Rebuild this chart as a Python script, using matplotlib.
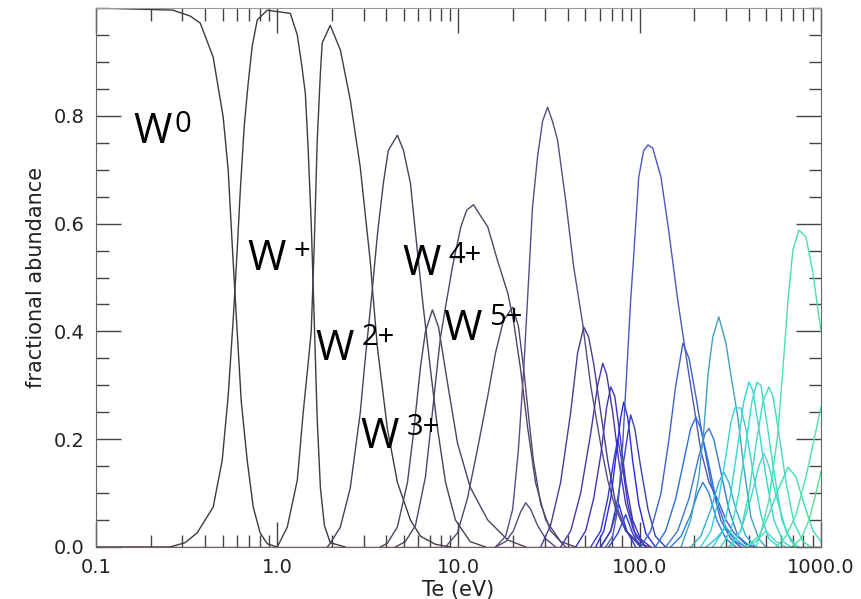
import numpy as np
import matplotlib
matplotlib.use("Agg")
import matplotlib.pyplot as plt
from matplotlib.ticker import FixedLocator, LogLocator, MultipleLocator, NullFormatter

# Fractional abundance of tungsten charge states vs electron temperature
# Te in eV, abundance between 0 and 1. One pair of lists per charge state.

te_00 = [0.1, 0.266, 0.331, 0.376, 0.443, 0.503, 0.536, 0.571, 0.601, 0.633, 0.683, 0.737, 0.805, 0.881, 1.0]
fa_00 = [1.0, 0.996, 0.985, 0.972, 0.909, 0.798, 0.70, 0.53, 0.40, 0.27, 0.16, 0.074, 0.026, 0.006, 0.0]

te_01 = [0.1, 0.256, 0.310, 0.361, 0.443, 0.497, 0.536, 0.571, 0.601, 0.625, 0.657, 0.691, 0.728, 0.776, 0.881,
         1.18, 1.29, 1.37, 1.43, 1.48, 1.54, 1.60, 1.66, 1.73, 1.82, 1.96, 2.37]
fa_01 = [0.0, 0.0, 0.008, 0.026, 0.074, 0.161, 0.28, 0.42, 0.55, 0.66, 0.78, 0.86, 0.93, 0.978, 0.996,
         0.99, 0.95, 0.89, 0.84, 0.74, 0.60, 0.42, 0.24, 0.11, 0.04, 0.008, 0.0]

te_02 = [1.0, 1.136, 1.29, 1.39, 1.48, 1.54, 1.60, 1.66, 1.73, 1.77, 1.96, 2.23, 2.53, 2.87, 3.26, 3.35, 3.57,
         4.05, 4.60, 5.43, 6.17, 7.46, 9.03]
fa_02 = [0.0, 0.037, 0.124, 0.249, 0.34, 0.40, 0.56, 0.75, 0.88, 0.935, 0.968, 0.922, 0.829, 0.705, 0.53, 0.48, 0.37,
         0.22, 0.12, 0.05, 0.02, 0.005, 0.0]

te_03 = [1.89, 1.96, 2.23, 2.53, 2.87, 3.06, 3.26, 3.35, 3.57, 3.85, 4.10, 4.60, 4.97, 5.43, 5.79, 6.33, 7.00,
         7.66, 8.48, 9.62, 11.6, 14.1]
fa_03 = [0.0, 0.007, 0.037, 0.11, 0.249, 0.35, 0.44, 0.48, 0.58, 0.675, 0.736, 0.764, 0.736, 0.675, 0.583, 0.458, 0.33,
         0.22, 0.12, 0.05, 0.01, 0.0]

te_04 = [3.71, 4.05, 4.60, 5.23, 5.64, 6.17, 6.57, 7.18, 7.76, 8.70, 9.87, 11.6, 14.5, 18.7, 23.5]
fa_04 = [0.0, 0.007, 0.037, 0.12, 0.21, 0.334, 0.40, 0.44, 0.408, 0.304, 0.193, 0.111, 0.05, 0.013, 0.0]

te_05 = [4.49, 5.09, 5.79, 6.57, 7.18, 7.66, 7.96, 8.48, 9.26, 10.3, 11.1, 12.1, 13.2, 14.5, 16.4, 18.7, 20.1,
         22.0, 24.1, 26.6, 30.3, 36.6, 44.3]
fa_05 = [0.0, 0.01, 0.04, 0.13, 0.25, 0.34, 0.39, 0.445, 0.52, 0.594, 0.625, 0.635, 0.615, 0.594, 0.532, 0.471, 0.42,
         0.33, 0.22, 0.12, 0.05, 0.01, 0.0]

te_06 = [8.48, 9.87, 11.2, 12.7, 14.5, 16.0, 17.7, 19.9, 21.4, 22.9, 24.4, 25.9, 28.4, 32.2, 39.0]
fa_06 = [0.0, 0.026, 0.09, 0.18, 0.28, 0.36, 0.42, 0.445, 0.41, 0.33, 0.24, 0.16, 0.08, 0.03, 0.0]

te_07 = [16.0, 18.2, 20.1, 22.0, 23.5, 25.0, 27.3, 30.3, 34.4]
fa_07 = [0.0, 0.01, 0.03, 0.065, 0.082, 0.07, 0.04, 0.015, 0.0]

te_08 = [16.0, 18.2, 19.9, 21.4, 22.9, 24.4, 25.6, 27.3, 29.1, 31.0, 33.0, 35.2, 39.0, 43.2, 48.4, 53.6, 60.9,
         66.6, 73.7, 83.7, 101, 115]
fa_08 = [0.0, 0.02, 0.07, 0.18, 0.33, 0.50, 0.63, 0.724, 0.79, 0.816, 0.79, 0.755, 0.644, 0.52, 0.415, 0.30, 0.19,
         0.124, 0.07, 0.03, 0.005, 0.0]

te_09 = [28.4, 32.2, 36.6, 41.6, 45.4, 49.1, 52.2, 55.7, 60.9, 66.6, 73.7, 83.7, 101]
fa_09 = [0.0, 0.04, 0.12, 0.25, 0.36, 0.408, 0.39, 0.34, 0.25, 0.16, 0.08, 0.03, 0.0]

te_10 = [36.6, 41.6, 47.2, 53.6, 58.6, 62.5, 65.7, 70.9, 76.6, 83.7, 92.6, 108]
fa_10 = [0.0, 0.03, 0.10, 0.21, 0.30, 0.341, 0.32, 0.25, 0.16, 0.08, 0.03, 0.0]

te_11 = [44.3, 50.3, 55.7, 60.9, 65.7, 69.2, 72.8, 77.6, 83.7, 91.4, 101, 115]
fa_11 = [0.0, 0.03, 0.09, 0.17, 0.26, 0.297, 0.28, 0.21, 0.12, 0.05, 0.015, 0.0]

te_12 = [53.6, 60.9, 66.6, 71.8, 75.6, 79.6, 85.9, 95.0, 108]
fa_12 = [0.0, 0.03, 0.09, 0.16, 0.20, 0.16, 0.08, 0.02, 0.0]

te_13 = [60.9, 69.2, 76.6, 84.7, 95.0]
fa_13 = [0.0, 0.03, 0.08, 0.03, 0.0]

te_14 = [57.1, 63.3, 69.2, 74.6, 78.5, 81.6, 85.9, 91.4, 98.7, 108, 122]
fa_14 = [0.0, 0.03, 0.09, 0.18, 0.24, 0.269, 0.24, 0.16, 0.08, 0.025, 0.0]

te_15 = [67.4, 75.6, 83.7, 91.4, 101]
fa_15 = [0.0, 0.025, 0.06, 0.025, 0.0]

te_16 = [60.9, 69.2, 75.6, 81.6, 85.9, 89.1, 93.8, 101, 111, 122, 139]
fa_16 = [0.0, 0.03, 0.09, 0.16, 0.21, 0.245, 0.22, 0.15, 0.07, 0.02, 0.0]

te_17 = [64.9, 70.9, 75.6, 80.5, 85.9, 89.1, 92.6, 98.7, 105, 111, 118, 131, 145, 162, 184, 217, 241, 270,
         299, 331, 385, 438]
fa_17 = [0.0, 0.02, 0.07, 0.19, 0.36, 0.458, 0.54, 0.686, 0.735, 0.746, 0.74, 0.686, 0.583, 0.458, 0.334, 0.18, 0.12, 0.087,
         0.05, 0.026, 0.005, 0.0]

te_18 = [101, 115, 131, 145, 158, 173, 187, 204, 223, 247, 280, 318, 361]
fa_18 = [0.0, 0.03, 0.10, 0.20, 0.30, 0.378, 0.35, 0.28, 0.20, 0.12, 0.05, 0.015, 0.0]

te_19 = [122, 139, 158, 175, 191, 204, 217, 238, 263, 299, 339, 385]
fa_19 = [0.0, 0.03, 0.09, 0.16, 0.22, 0.241, 0.22, 0.16, 0.09, 0.035, 0.01, 0.0]

te_20 = [148, 169, 191, 209, 223, 241, 266, 299, 339]
fa_20 = [0.0, 0.02, 0.06, 0.10, 0.12, 0.10, 0.05, 0.015, 0.0]

te_21 = [139, 162, 187, 209, 229, 241, 256, 280, 310, 348, 410]
fa_21 = [0.0, 0.03, 0.09, 0.16, 0.21, 0.22, 0.20, 0.14, 0.07, 0.02, 0.0]

te_22 = [169, 191, 212, 226, 238, 253, 273, 299, 318, 348, 375, 410, 454, 497]
fa_22 = [0.0, 0.05, 0.13, 0.22, 0.32, 0.39, 0.427, 0.378, 0.32, 0.24, 0.148, 0.056, 0.015, 0.0]

te_23 = [191, 217, 247, 273, 291, 310, 339, 385, 438]
fa_23 = [0.0, 0.02, 0.07, 0.12, 0.139, 0.12, 0.07, 0.02, 0.0]

te_24 = [232, 263, 299, 339, 385]
fa_24 = [0.0, 0.015, 0.037, 0.015, 0.0]

te_25 = [217, 247, 273, 299, 318, 335, 361, 385, 421, 466, 516, 586]
fa_25 = [0.0, 0.03, 0.09, 0.17, 0.23, 0.258, 0.258, 0.22, 0.14, 0.06, 0.015, 0.0]

te_26 = [253, 288, 318, 348, 375, 400, 421, 454, 497, 550, 617, 683]
fa_26 = [0.0, 0.03, 0.10, 0.19, 0.27, 0.306, 0.29, 0.22, 0.13, 0.05, 0.01, 0.0]

te_27 = [280, 318, 352, 385, 416, 443, 466, 503, 550, 609, 683, 755]
fa_27 = [0.0, 0.03, 0.10, 0.19, 0.27, 0.306, 0.30, 0.23, 0.14, 0.05, 0.01, 0.0]

te_28 = [310, 361, 410, 454, 485, 516, 571, 641, 728]
fa_28 = [0.0, 0.03, 0.09, 0.15, 0.174, 0.15, 0.09, 0.03, 0.0]

te_29 = [318, 361, 400, 438, 478, 516, 543, 586, 641, 709, 796, 881]
fa_29 = [0.0, 0.03, 0.10, 0.19, 0.27, 0.297, 0.28, 0.21, 0.12, 0.045, 0.01, 0.0]

te_30 = [385, 438, 497, 564, 641]
fa_30 = [0.0, 0.01, 0.03, 0.01, 0.0]

te_31 = [385, 454, 516, 586, 658, 728, 806, 903, 1000]
fa_31 = [0.0, 0.02, 0.06, 0.11, 0.148, 0.13, 0.08, 0.03, 0.01]

te_32 = [438, 466, 516, 578, 617, 658, 700, 755, 826, 903, 962, 1000]
fa_32 = [0.0, 0.026, 0.087, 0.21, 0.334, 0.458, 0.551, 0.588, 0.575, 0.508, 0.44, 0.40]

te_33 = [564, 641, 728, 826, 903, 1000]
fa_33 = [0.0, 0.02, 0.06, 0.13, 0.19, 0.26]

te_34 = [683, 776, 859, 938, 1000]
fa_34 = [0.0, 0.015, 0.05, 0.10, 0.14]

# higher charge states stay at zero over this range
te_hi = [0.1, 1000]
fa_hi = [0.0, 0.0]

xtick_vals = [0.1, 1.0, 10.0, 100.0, 1000.0]
xtick_text = ["0.1", "1.0", "10.0", "100.0", "1000.0"]
ytick_vals = [0.0, 0.2, 0.4, 0.6, 0.8]
ytick_text = ["0.0", "0.2", "0.4", "0.6", "0.8"]

# ion labels: (Te, abundance) of the W baseline and of the superscript
ion_labels = [
    ("0", (0.160, 0.750), (0.270, 0.770)),
    ("+", (0.683, 0.514), (1.23, 0.534)),
    ("2+", (1.62, 0.347), (2.92, 0.375)),
    ("3+", (2.87, 0.184), (5.16, 0.208)),
    ("4+", (4.90, 0.505), (8.82, 0.527)),
    ("5+", (8.26, 0.384), (14.7, 0.412)),
]

curves = [
    (te_00, fa_00, "#3a3a3a"), (te_01, fa_01, "#3d3a40"), (te_02, fa_02, "#423c48"),
    (te_03, fa_03, "#4a4058"), (te_04, fa_04, "#4e4262"), (te_05, fa_05, "#504468"),
    (te_06, fa_06, "#54466e"), (te_07, fa_07, "#554a78"), (te_08, fa_08, "#5a4c80"),
    (te_09, fa_09, "#4a3c90"), (te_10, fa_10, "#4438a8"), (te_11, fa_11, "#3c34b8"),
    (te_12, fa_12, "#3a36c8"), (te_13, fa_13, "#3030d0"), (te_14, fa_14, "#2828e8"),
    (te_15, fa_15, "#2a40d8"), (te_16, fa_16, "#3a40b8"), (te_17, fa_17, "#4858c0"),
    (te_18, fa_18, "#4060c8"), (te_19, fa_19, "#2a70d8"), (te_20, fa_20, "#2a80e0"),
    (te_21, fa_21, "#3a78d0"), (te_22, fa_22, "#40a0c0"), (te_23, fa_23, "#30b0d8"),
    (te_24, fa_24, "#30c0e0"), (te_25, fa_25, "#38d0d8"), (te_26, fa_26, "#30d8d0"),
    (te_27, fa_27, "#38dcc8"), (te_28, fa_28, "#40d8c8"), (te_29, fa_29, "#40dcc0"),
    (te_30, fa_30, "#48dcc0"), (te_31, fa_31, "#40dcb8"), (te_32, fa_32, "#48e0b0"),
    (te_33, fa_33, "#50e0a8"), (te_34, fa_34, "#58e098"), (te_hi, fa_hi, "#8b1a1a"),
]

fig = plt.figure(figsize=(8.62, 5.99), dpi=100)
ax = fig.add_axes([96 / 862, 52 / 599, 725 / 862, 539 / 599])

for te, fa, col in curves:
    ax.plot(te, fa, color=col, lw=1.0)

ax.set_xscale("log")
ax.set_xlim(0.1, 1000)
ax.set_ylim(0, 1.0)

ax.xaxis.set_major_locator(FixedLocator(xtick_vals))
ax.set_xticklabels(xtick_text)
ax.xaxis.set_minor_locator(LogLocator(base=10, subs=np.arange(2, 10)))
ax.xaxis.set_minor_formatter(NullFormatter())
ax.set_yticks(ytick_vals)
ax.set_yticklabels(ytick_text)
ax.yaxis.set_minor_locator(MultipleLocator(0.05))

ax.tick_params(which="both", direction="in", top=True, right=True,
               color="#444444", width=1.0, labelcolor="#222222", labelsize=14)
ax.tick_params(which="major", length=18, pad=8)
ax.tick_params(which="minor", length=9)
for side in ["left", "right", "bottom"]:
    ax.spines[side].set_color("#666666")
ax.spines["top"].set_color("#999999")

ax.set_xlabel("Te (eV)", fontsize=15, color="#222222", labelpad=2)
ax.set_ylabel("fractional abundance", fontsize=15, color="#222222", labelpad=6)

for sup, (tw, fw), (ts, fs) in ion_labels:
    ax.text(tw, fw, "W", fontsize=30, family="Open Sans",
            color="black", va="baseline", ha="left")
    ax.text(ts, fs, sup, fontsize=21, family="Open Sans",
            color="black", va="baseline", ha="left")

plt.savefig("out.png", dpi=100)
